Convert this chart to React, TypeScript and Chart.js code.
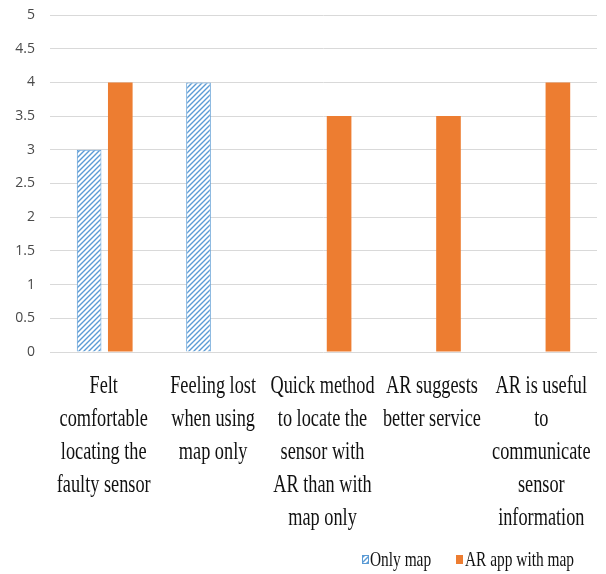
import { useEffect, useRef } from "react";
import { Chart, registerables } from "chart.js";

Chart.register(...registerables);

// Survey statements, one entry per wrapped line
const categoryLines: string[][] = [
  ["Felt", "comfortable", "locating the", "faulty sensor"],
  ["Feeling lost", "when using", "map only"],
  ["Quick method", "to locate the", "sensor with", "AR than with", "map only"],
  ["AR suggests", "better service"],
  ["AR is useful", "to", "communicate", "sensor", "information"],
];

const seriesNames = ["Only map", "AR app with map"];
const onlyMap: (number | null)[] = [3, 4, null, null, null];
const arAppWithMap: (number | null)[] = [4, null, 3.5, 3.5, 4];

const yMin = 0;
const yMax = 5;
const yStep = 0.5;

const BLUE = "#5B9BD5";
const ORANGE = "#ED7D31";

function makeHatch(): CanvasPattern | string {
  const c = document.createElement("canvas");
  c.width = 5;
  c.height = 5;
  const g = c.getContext("2d");
  if (!g) return BLUE;
  g.fillStyle = "#ffffff";
  g.fillRect(0, 0, 5, 5);
  g.strokeStyle = BLUE;
  g.lineWidth = 1.4;
  g.beginPath();
  g.moveTo(-1, 6);
  g.lineTo(6, -1);
  g.moveTo(-1, 1);
  g.lineTo(1, -1);
  g.moveTo(4, 6);
  g.lineTo(6, 4);
  g.stroke();
  return g.createPattern(c, "repeat") || BLUE;
}

// Draws text that is taller than it is wide
function stretchedText(
  ctx: CanvasRenderingContext2D,
  text: string,
  x: number,
  y: number,
  size: number,
  sy: number,
  align: CanvasTextAlign
) {
  ctx.save();
  ctx.translate(x, y);
  ctx.scale(1, sy);
  ctx.font = `${size}px "Liberation Serif", "Times New Roman", serif`;
  ctx.textAlign = align;
  ctx.textBaseline = "alphabetic";
  ctx.fillText(text, 0, 0);
  ctx.restore();
}

export default function App() {
  const ref = useRef<HTMLCanvasElement | null>(null);

  useEffect(() => {
    if (!ref.current) return;
    const hatch = makeHatch();

    const labelsAndLegend = {
      id: "labelsAndLegend",
      afterDraw(chart: Chart) {
        const ctx = chart.ctx;
        const xs = chart.scales.x;
        ctx.save();
        ctx.fillStyle = "#111111";
        categoryLines.forEach((lines, i) => {
          const cx = xs.getPixelForValue(i);
          lines.forEach((line, j) => {
            stretchedText(ctx, line, cx - 1, 393 + j * 33, 18.3, 1.4, "center");
          });
        });

        // legend
        const ly = 566;
        ctx.fillStyle = hatch as any;
        ctx.fillRect(362, 555, 7, 9);
        ctx.strokeStyle = BLUE;
        ctx.lineWidth = 1;
        ctx.strokeRect(362.5, 555.5, 6, 8);
        ctx.fillStyle = "#111111";
        stretchedText(ctx, seriesNames[0], 370, ly, 15.4, 1.35, "left");
        ctx.fillStyle = ORANGE;
        ctx.fillRect(456, 555, 7, 9);
        ctx.fillStyle = "#111111";
        stretchedText(ctx, seriesNames[1], 465, ly, 15.4, 1.35, "left");
        ctx.restore();
      },
    };

    const chart = new Chart(ref.current, {
      type: "bar",
      data: {
        labels: categoryLines.map((l) => l.join(" ")),
        datasets: [
          {
            label: seriesNames[0],
            data: onlyMap,
            backgroundColor: hatch as any,
            borderColor: BLUE,
            borderWidth: 1,
            categoryPercentage: 0.57,
            barPercentage: 0.79,
          },
          {
            label: seriesNames[1],
            data: arAppWithMap,
            backgroundColor: ORANGE,
            borderWidth: 0,
            categoryPercentage: 0.57,
            barPercentage: 0.79,
          },
        ],
      },
      options: {
        responsive: false,
        animation: false,
        layout: { padding: { top: 15, right: 9, left: 0, bottom: 0 } },
        plugins: {
          legend: { display: false },
          tooltip: { enabled: false },
        },
        scales: {
          x: {
            type: "category",
            grid: { display: false },
            border: { display: false },
            ticks: { display: false },
            afterFit: (scale: any) => {
              scale.height = 222;
            },
          },
          y: {
            min: yMin,
            max: yMax,
            border: { display: false },
            grid: { color: "#d9d9d9", lineWidth: 1, drawTicks: false },
            ticks: {
              stepSize: yStep,
              padding: 15,
              color: "#4a4a4a",
              font: { family: "'Open Sans', sans-serif", size: 14 },
              callback: (v: any) => String(Number(v)),
            },
            afterFit: (scale: any) => {
              scale.width = 50;
              scale.paddingTop = 0;
              scale.paddingBottom = 0;
            },
          },
        },
      },
      plugins: [labelsAndLegend],
    });

    return () => chart.destroy();
  }, []);

  return (
    <div
      style={{
        position: "fixed",
        left: 0,
        top: 0,
        width: 606,
        height: 574,
        background: "#ffffff",
      }}
    >
      <canvas ref={ref} width={606} height={574} />
    </div>
  );
}
